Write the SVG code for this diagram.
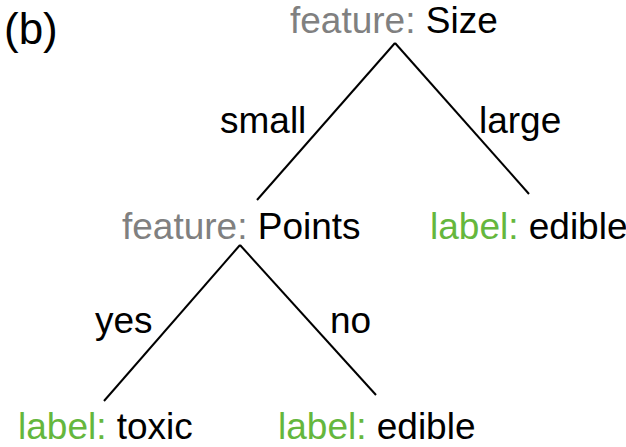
<svg xmlns="http://www.w3.org/2000/svg" width="626" height="447" viewBox="0 0 626 447">
  <style>
    text { font-family: "Liberation Sans", Arial, Helvetica, sans-serif; font-size: 37px; fill: #000; }
    .key-feature { fill: #808080; }
    .key-label { fill: #65b73d; }
    .edge { stroke: #000; stroke-width: 2; fill: none; }
  </style>
  <rect width="626" height="447" fill="#fff"/>

  <text id="panel-tag" x="4" y="44" style="font-size:44px">(b)</text>

  <g id="connectors">
    <line class="edge" x1="395" y1="43" x2="257" y2="200"/>
    <line class="edge" x1="395" y1="43" x2="529" y2="194"/>
    <line class="edge" x1="240" y1="245" x2="104" y2="401"/>
    <line class="edge" x1="240" y1="245" x2="376" y2="395"/>
    <text x="220" y="133">small</text>
    <text x="479" y="133">large</text>
    <text x="95" y="333">yes</text>
    <text x="330" y="333">no</text>
  </g>

  <g id="node-size">
    <text x="290" y="33"><tspan class="key-feature">feature:</tspan> Size</text>
  </g>
  <g id="node-points">
    <text x="122" y="239"><tspan class="key-feature">feature:</tspan> Points</text>
  </g>
  <g id="leaf-large">
    <text x="430" y="239"><tspan class="key-label">label:</tspan> edible</text>
  </g>
  <g id="leaf-toxic">
    <text x="18" y="439"><tspan class="key-label">label:</tspan> toxic</text>
  </g>
  <g id="leaf-edible">
    <text x="278" y="439"><tspan class="key-label">label:</tspan> edible</text>
  </g>
</svg>
